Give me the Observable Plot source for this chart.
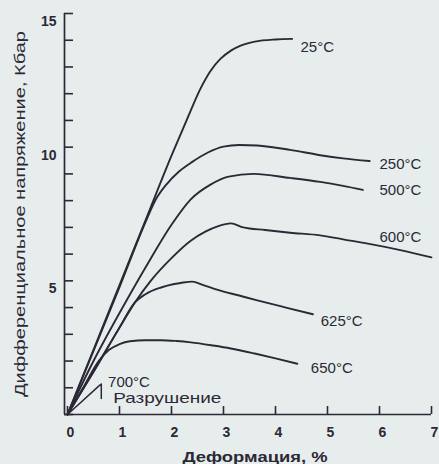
<!DOCTYPE html>
<html><head><meta charset="utf-8">
<script src="https://cdn.jsdelivr.net/npm/d3@7"></script>
<script src="https://cdn.jsdelivr.net/npm/@observablehq/plot@0.6"></script>
<style>
html,body{margin:0;padding:0;background:#e7eded;}
#chart svg{display:block;}
</style></head><body><div id="chart"></div>
<script>
// ---- data (strain %, stress kbar) ----
const strain25  = [0, 0.5, 1.0, 1.5, 2.0, 2.3, 2.56, 2.75, 2.94, 3.15, 3.33, 3.6, 4.0, 4.32];
const stress25  = [0, 2.42, 4.84, 7.26, 9.68, 11.05, 12.2, 12.85, 13.3, 13.62, 13.8, 13.95, 14.03, 14.05];
const strain250 = [0, 0.5, 1.0, 1.5, 1.7, 1.9, 2.15, 2.4, 2.7, 3.0, 3.3, 3.65, 4.28, 4.86, 5.3, 5.81];
const stress250 = [0, 2.38, 4.76, 7.2, 8.05, 8.6, 9.1, 9.45, 9.8, 10.02, 10.08, 10.06, 9.9, 9.7, 9.58, 9.48];
const strain500 = [0, 0.5, 1.03, 1.5, 2.0, 2.37, 2.75, 3.1, 3.58, 4.28, 4.86, 5.3, 5.68];
const stress500 = [0, 2.0, 3.9, 5.5, 7.1, 8.05, 8.6, 8.9, 9.0, 8.85, 8.7, 8.55, 8.4];
const strain600 = [0, 0.5, 1.0, 1.3, 1.6, 2.0, 2.37, 2.66, 2.9, 3.14, 3.38, 3.8, 4.28, 4.86, 5.3, 5.75, 6.4, 7.0];
const stress600 = [0, 1.6, 3.25, 4.2, 5.0, 5.85, 6.5, 6.85, 7.05, 7.15, 7.0, 6.9, 6.8, 6.7, 6.55, 6.4, 6.15, 5.88];
const strain625 = [0, 0.5, 1.0, 1.3, 1.5, 1.8, 2.05, 2.2, 2.4, 2.6, 2.89, 3.3, 3.65, 4.2, 4.72];
const stress625 = [0, 1.6, 3.25, 4.2, 4.5, 4.75, 4.88, 4.93, 4.97, 4.85, 4.66, 4.45, 4.27, 4.0, 3.75];
const strain650 = [0, 0.3, 0.6, 0.8, 1.0, 1.2, 1.5, 1.8, 2.1, 2.37, 2.8, 3.14, 3.6, 4.0, 4.42];
const stress650 = [0, 1.0, 2.0, 2.42, 2.63, 2.74, 2.78, 2.78, 2.75, 2.7, 2.58, 2.47, 2.28, 2.1, 1.9];
const strain700 = [0, 0.6, 0.65, 0.65];
const stress700 = [0, 1.06, 1.14, 0.6];

// ---- labels ----
const labelText   = ["25°C", "250°C", "500°C", "600°C", "625°C", "650°C", "700°C", "Разрушение"];
const labelStrain = [4.48, 6.0, 6.0, 6.0, 4.87, 4.68, 0.78, 0.88];
const labelStress = [13.75, 9.35, 8.4, 6.65, 3.5, 1.72, 1.22, 0.62];

const xTicks = [0, 1, 2, 3, 4, 5, 6, 7];
const yTicks = [0, 1, 2, 3, 4, 5, 6, 7, 8, 9, 10, 11, 12, 13, 14, 15];
const yTickLabels = [5, 10, 15];
const xTitle = "Деформация, %";
const yTitle = "Дифференциальное напряжение, Кбар";

const ink = "#2b2935";
const rows = (name, xs, ys) => xs.map((x, i) => ({series: name, x, y: ys[i]}));
const curves = [
  ...rows("25", strain25, stress25),
  ...rows("250", strain250, stress250),
  ...rows("500", strain500, stress500),
  ...rows("600", strain600, stress600),
  ...rows("625", strain625, stress625),
  ...rows("650", strain650, stress650)
];
const fracture = rows("700", strain700, stress700);
const labels = labelText.map((t, i) => ({t, x: labelStrain[i], y: labelStress[i]}));

const chart = Plot.plot({
  width: 439, height: 464,
  marginLeft: 67, marginRight: 8, marginTop: 13, marginBottom: 50,
  x: {domain: [0, 7]},
  y: {domain: [0, 15]},
  style: {background: "transparent", fontFamily: "'Liberation Sans', Arial, sans-serif", color: ink},
  marks: [
    Plot.ruleX([0], {stroke: ink, strokeWidth: 1.7, dx: -3}),
    Plot.ruleY([0], {stroke: ink, strokeWidth: 1.7, insetLeft: -3}),
    Plot.axisY(yTicks, {tickSize: -9, tickFormat: () => "", label: null, dx: -3, stroke: ink, strokeWidth: 1.6}),
    Plot.axisY(yTickLabels, {tickSize: 0, tickPadding: 11, dy: 8, fontSize: 14, fontWeight: "bold", fill: ink, label: null}),
    Plot.axisX(xTicks, {tickSize: -8, tickFormat: () => "", label: null, stroke: ink, strokeWidth: 1.6}),
    Plot.axisX(xTicks, {tickSize: 0, tickPadding: 13, dx: 3, fontSize: 14, fontWeight: "bold", fill: ink, label: null}),
    Plot.line(curves, {x: "x", y: "y", z: "series", stroke: ink, strokeWidth: 1.9, curve: "monotone-x"}),
    Plot.line(fracture, {x: "x", y: "y", stroke: ink, strokeWidth: 1.5, curve: "linear"}),
    Plot.text(labels, {x: "x", y: "y", text: "t", textAnchor: "start", fontSize: 15, fill: ink})
  ]
});

const svg = d3.select(chart);
svg.selectAll("text").filter(function() { return this.textContent === "Разрушение"; })
  .attr("textLength", 108).attr("lengthAdjust", "spacingAndGlyphs");
svg.append("text")
  .attr("transform", "translate(25,214) rotate(-90)")
  .attr("text-anchor", "middle")
  .attr("font-size", 15)
  .attr("fill", ink)
  .attr("textLength", 366).attr("lengthAdjust", "spacingAndGlyphs")
  .text(yTitle);
svg.append("text")
  .attr("x", 255).attr("y", 462)
  .attr("text-anchor", "middle")
  .attr("font-size", 15).attr("font-weight", "bold")
  .attr("fill", ink)
  .attr("textLength", 145).attr("lengthAdjust", "spacingAndGlyphs")
  .text(xTitle);

document.getElementById("chart").appendChild(chart);
</script></body></html>
